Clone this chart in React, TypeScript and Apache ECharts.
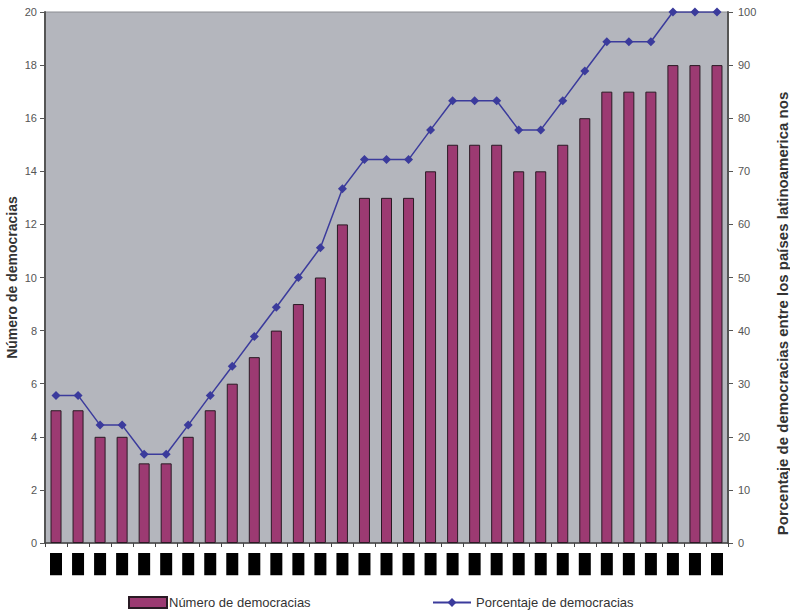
import React, { useEffect, useRef } from "react";
import * as echarts from "echarts";

const years = [
  "1971", "1972", "1973", "1974", "1975", "1976", "1977", "1978", "1979", "1980",
  "1981", "1982", "1983", "1984", "1985", "1986", "1987", "1988", "1989", "1990",
  "1991", "1992", "1993", "1994", "1995", "1996", "1997", "1998", "1999", "2000", "2001",
];
const numeroDemocracias = [
  5, 5, 4, 4, 3, 3, 4, 5, 6, 7, 8, 9, 10, 12, 13, 13, 13, 14, 15, 15, 15, 14, 14, 15, 16, 17, 17, 17, 18, 18, 18,
];
const porcentajeDemocracias = [
  27.8, 27.8, 22.2, 22.2, 16.7, 16.7, 22.2, 27.8, 33.3, 38.9, 44.4, 50.0, 55.6, 66.7, 72.2, 72.2, 72.2, 77.8,
  83.3, 83.3, 83.3, 77.8, 77.8, 83.3, 88.9, 94.4, 94.4, 94.4, 100, 100, 100,
];
const leftTicks = { min: 0, max: 20, interval: 2 };
const rightTicks = { min: 0, max: 100, interval: 10 };

export default function App() {
  const ref = useRef<HTMLDivElement>(null);
  useEffect(() => {
    if (!ref.current) return;
    const chart = echarts.init(ref.current, undefined, { renderer: "svg" });
    const font = "'Liberation Sans', Arial, sans-serif";
    chart.setOption({
      animation: false,
      textStyle: { fontFamily: font },
      grid: {
        left: 45,
        right: 62,
        top: 12,
        bottom: 70,
        show: true,
        backgroundColor: "#b4b6bd",
        borderColor: "#8a8c92",
        borderWidth: 1,
        outerBoundsMode: "none",
        containLabel: false,
      },
      legend: [
        {
          data: [{ name: "Número de democracias", icon: "rect" }],
          left: 128,
          top: 596,
          itemWidth: 38,
          itemHeight: 11,
          itemGap: 4,
          textStyle: { fontSize: 13, color: "#333", fontFamily: font, padding: [0, 0, 0, -3] },
          padding: 0,
        },
        {
          data: ["Porcentaje de democracias"],
          left: 432,
          top: 596,
          itemWidth: 38,
          itemHeight: 11,
          textStyle: { fontSize: 13, color: "#333", fontFamily: font },
          padding: 0,
        },
      ],
      xAxis: {
        type: "category",
        data: years,
        boundaryGap: true,
        axisLine: { lineStyle: { color: "#444", width: 1.5 } },
        axisTick: { show: true, inside: false, length: 4, lineStyle: { color: "#444" } },
        axisLabel: {
          rotate: 90,
          interval: 0,
          fontSize: 10,
          color: "#000",
          backgroundColor: "#000",
          padding: [1, 0, 1, 0],
          margin: 10,
          fontFamily: font,
        },
      },
      yAxis: [
        {
          type: "value",
          min: leftTicks.min,
          max: leftTicks.max,
          interval: leftTicks.interval,
          name: "Número de democracias",
          nameLocation: "middle",
          nameGap: 26,
          nameMoveOverlap: false,
          nameTextStyle: { fontSize: 14, fontWeight: "bold", color: "#333", fontFamily: font },
          axisLine: { show: true, lineStyle: { color: "#555", width: 2 } },
          axisTick: { show: true, length: 5, lineStyle: { color: "#555" } },
          axisLabel: { fontSize: 11, color: "#555", margin: 8, fontFamily: font },
          splitLine: { show: false },
        },
        {
          type: "value",
          position: "right",
          min: rightTicks.min,
          max: rightTicks.max,
          interval: rightTicks.interval,
          name: "Porcentaje de democracias entre los países latinoamerica nos",
          nameLocation: "middle",
          nameGap: 47,
          nameRotate: 90,
          nameTextStyle: {
            fontSize: 15,
            fontWeight: "bold",
            color: "#333",
            fontFamily: font,
            padding: [0, 72, 0, 0],
          },
          axisLine: { show: true, lineStyle: { color: "#555", width: 2 } },
          axisTick: { show: true, length: 5, lineStyle: { color: "#555" } },
          axisLabel: { fontSize: 11, color: "#555", margin: 10, fontFamily: font },
          splitLine: { show: false },
        },
      ],
      series: [
        {
          name: "Número de democracias",
          type: "bar",
          yAxisIndex: 0,
          data: numeroDemocracias,
          barWidth: 11,
          itemStyle: { color: "#9c3a72", borderColor: "#2a1a24", borderWidth: 1 },
        },
        {
          name: "Porcentaje de democracias",
          type: "line",
          yAxisIndex: 1,
          data: porcentajeDemocracias,
          symbol: "diamond",
          symbolSize: 9,
          lineStyle: { color: "#3b3b9c", width: 1.5 },
          itemStyle: { color: "#3b3b9c" },
        },
      ],
    });
    return () => chart.dispose();
  }, []);
  return <div ref={ref} style={{ width: 790, height: 613, position: "absolute", left: 0, top: 0 }} />;
}
